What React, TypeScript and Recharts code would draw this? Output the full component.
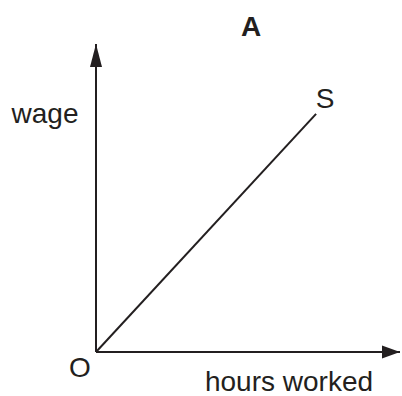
import { Line, LineChart, ReferenceDot, ReferenceLine, XAxis, YAxis } from "recharts"

// supply curve S, from the origin up to the label
const hours = [0, 7.24]
const wage = [0, 7.73]

const data = hours.map((h, i) => ({ hours: h, wage: wage[i] }))

const ink = "#231f20"
const font = "'Liberation Sans', Arial, sans-serif"

const UpArrow = (props: any) => {
  const { cx, cy } = props
  return <path d={`M${cx},${cy} L${cx - 6},${cy + 23} L${cx + 6},${cy + 23} Z`} fill={ink} />
}

const RightArrow = (props: any) => {
  const { cx, cy } = props
  return <path d={`M${cx},${cy} L${cx - 18},${cy - 6.5} L${cx - 18},${cy + 6.5} Z`} fill={ink} />
}

const text = (x: number, y: number, value: string, bold = false) => (
  <text x={x} y={y} textAnchor="middle" fontFamily={font} fontSize={28} fontWeight={bold ? 700 : 400} fill={ink}>
    {value}
  </text>
)

export default function App() {
  return (
    <div style={{ position: "absolute", left: 0, top: 0 }}>
      <LineChart width={402} height={396} data={data} margin={{ top: 44, right: 2, bottom: 44, left: 96 }}>
        <XAxis type="number" dataKey="hours" domain={[0, 10]} hide />
        <YAxis type="number" domain={[0, 10]} hide />
        <ReferenceLine y={0} stroke={ink} strokeWidth={2} ifOverflow="visible" />
        <ReferenceLine x={0} stroke={ink} strokeWidth={2} ifOverflow="visible" />
        <Line
          type="linear"
          dataKey="wage"
          stroke={ink}
          strokeWidth={2}
          dot={false}
          activeDot={false}
          isAnimationActive={false}
        />
        <ReferenceDot x={0} y={10} shape={UpArrow} ifOverflow="visible" />
        <ReferenceDot x={10} y={0} shape={RightArrow} ifOverflow="visible" />
        <ReferenceDot
          x={0}
          y={0}
          r={0}
          ifOverflow="visible"
          label={({ viewBox }: any) => (
            <g>
              {text(viewBox.x - 16, viewBox.y + 25, "O")}
              {text(viewBox.x + 193, viewBox.y + 39, "hours worked")}
            </g>
          )}
        />
        <ReferenceDot
          x={0}
          y={10}
          r={0}
          ifOverflow="visible"
          label={({ viewBox }: any) => (
            <g>
              {text(viewBox.x - 51, viewBox.y + 79, "wage")}
              {text(viewBox.x + 155, viewBox.y - 8, "A", true)}
            </g>
          )}
        />
        <ReferenceDot
          x={hours[1]}
          y={wage[1]}
          r={0}
          ifOverflow="visible"
          label={({ viewBox }: any) => text(viewBox.x + 9, viewBox.y - 6, "S")}
        />
      </LineChart>
    </div>
  )
}
